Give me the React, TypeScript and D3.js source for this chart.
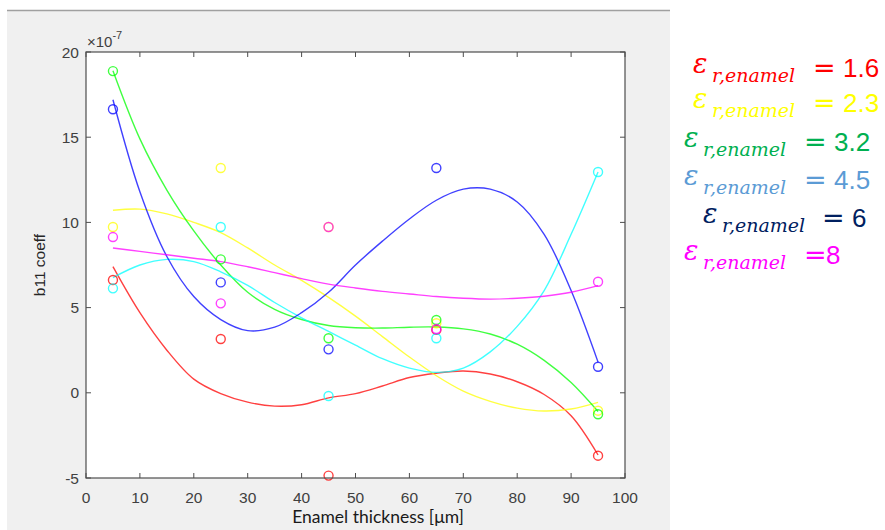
import React from "react";
import * as d3 from "d3";

const thickness = [5, 25, 45, 65, 95];
const seriesNames = ["1.6", "2.3", "3.2", "4.5", "6", "8"];
const lineColors = ["#ff0000", "#ffff00", "#00ff00", "#00ffff", "#0000ff", "#ff00ff"];
const legendColors = ["#ff0000", "#ffff00", "#00b050", "#5b9bd5", "#002060", "#ff00ff"];

// measured points (×1e-7)
const pts16 = [6.62, 3.16, -4.86, 3.69, -3.69];
const pts23 = [9.73, 13.19, 9.73, 4.08, -1.05];
const pts32 = [18.88, 7.83, 3.2, 4.27, -1.26];
const pts45 = [6.13, 9.73, -0.19, 3.2, 12.96];
const pts6 = [16.64, 6.48, 2.55, 13.19, 1.53];
const pts8 = [9.14, 5.25, 9.73, 3.74, 6.52];

// fitted curves, read at these x positions
const curveX = [5, 10, 15, 20, 25, 30, 35, 40, 45, 50, 55, 60, 65, 70, 75, 80, 85, 90, 95];
const fit16 = [7.4, 4.7, 2.5, 0.8, -0.05, -0.55, -0.78, -0.7, -0.3, -0.05, 0.4, 0.9, 1.15, 1.28, 1.1, 0.65, -0.1, -1.35, -3.65];
const fit23 = [10.71, 10.78, 10.5, 10.0, 9.4, 8.5, 7.5, 6.6, 5.6, 4.5, 3.3, 2.1, 1.0, 0.1, -0.5, -0.9, -1.07, -0.95, -0.56];
const fit32 = [18.9, 14.9, 11.9, 9.5, 7.5, 5.9, 4.9, 4.3, 3.95, 3.82, 3.8, 3.85, 3.86, 3.75, 3.45, 2.85, 1.9, 0.6, -1.1];
const fit45 = [6.76, 7.5, 7.83, 7.7, 7.1, 6.3, 5.3, 4.4, 3.6, 2.8, 2.0, 1.45, 1.2, 1.45, 2.4, 3.9, 6.0, 9.3, 12.96];
const fit6 = [17.2, 11.8, 8.0, 5.65, 4.3, 3.65, 3.85, 4.7, 5.9, 7.5, 8.9, 10.2, 11.3, 11.95, 11.95, 11.2, 9.3, 6.0, 1.8];
const fit8 = [8.5, 8.3, 8.1, 7.9, 7.7, 7.4, 7.05, 6.7, 6.38, 6.15, 5.95, 5.8, 5.65, 5.55, 5.5, 5.55, 5.67, 5.9, 6.29];

const points = [pts16, pts23, pts32, pts45, pts6, pts8];
const fits = [fit16, fit23, fit32, fit45, fit6, fit8];

const xTicks = [0, 10, 20, 30, 40, 50, 60, 70, 80, 90, 100];
const yTicks = [-5, 0, 5, 10, 15, 20];

export default function App() {
  const W = 885, H = 530;
  const left = 86, right = 625, top = 52, bottom = 478;
  const x = d3.scaleLinear().domain([0, 100]).range([left, right]);
  const y = d3.scaleLinear().domain([-5, 20]).range([bottom, top]);
  const line = d3
    .line<[number, number]>()
    .x((d) => x(d[0]))
    .y((d) => y(d[1]))
    .curve(d3.curveCatmullRom.alpha(0.5));

  const axisColor = "#4d4d4d";
  const tickFont = "'Liberation Sans', Arial, Helvetica, sans-serif";
  const tickColor = "#404040";

  const legendRows = [
    { ex: 693, base: 73, eqx: 813 },
    { ex: 693, base: 108, eqx: 813 },
    { ex: 684, base: 147, eqx: 804 },
    { ex: 684, base: 185, eqx: 804 },
    { ex: 703, base: 223, eqx: 822 },
    { ex: 684, base: 260, eqx: 804 },
  ];

  return (
    <svg
      width={W}
      height={H}
      style={{ position: "absolute", left: 0, top: 0, display: "block" }}
    >
      <rect x={0} y={0} width={W} height={H} fill="#ffffff" />
      <rect x={7} y={10} width={663} height={H - 10} fill="#f0f0f0" />
      <line x1={7} x2={670} y1={10.5} y2={10.5} stroke="#a0a0a0" strokeWidth={1.5} />
      <rect x={left} y={top} width={right - left} height={bottom - top} fill="#ffffff" />

      {/* fitted curves */}
      {fits.map((f, i) => (
        <path
          key={"c" + i}
          d={line(curveX.map((cx, j) => [cx, f[j]] as [number, number])) || ""}
          fill="none"
          stroke={lineColors[i]}
          strokeOpacity={0.75}
          strokeWidth={1.4}
        />
      ))}
      {/* markers */}
      {points.map((p, i) =>
        p.map((v, j) => (
          <circle
            key={"m" + i + "-" + j}
            cx={x(thickness[j])}
            cy={y(v)}
            r={4.5}
            fill="none"
            stroke={lineColors[i]}
            strokeOpacity={0.75}
            strokeWidth={1.4}
          />
        ))
      )}

      {/* axes box */}
      <rect
        x={left}
        y={top}
        width={right - left}
        height={bottom - top}
        fill="none"
        stroke={axisColor}
        strokeWidth={1.2}
      />
      {xTicks.map((t) => (
        <g key={"xt" + t}>
          <line x1={x(t)} x2={x(t)} y1={bottom} y2={bottom - 5} stroke={axisColor} />
          <line x1={x(t)} x2={x(t)} y1={top} y2={top + 5} stroke={axisColor} />
          <text
            x={x(t)}
            y={503}
            textAnchor="middle"
            fontFamily={tickFont}
            fontSize={15.5}
            fill={tickColor}
          >
            {t}
          </text>
        </g>
      ))}
      {yTicks.map((t) => (
        <g key={"yt" + t}>
          <line x1={left} x2={left + 5} y1={y(t)} y2={y(t)} stroke={axisColor} />
          <line x1={right} x2={right - 5} y1={y(t)} y2={y(t)} stroke={axisColor} />
          <text
            x={79}
            y={y(t) + 5.5}
            textAnchor="end"
            fontFamily={tickFont}
            fontSize={15.5}
            fill={tickColor}
          >
            {t}
          </text>
        </g>
      ))}
      <text x={87} y={47} fontFamily={tickFont} fontSize={15} fill={tickColor}>
        ×10
        <tspan dy={-8} fontSize={11}>-7</tspan>
      </text>
      <text
        transform={`translate(45, 265) rotate(-90)`}
        textAnchor="middle"
        fontFamily={tickFont}
        fontSize={15.5}
        fill="#262626"
      >
        b11 coeff
      </text>
      <text
        x={378}
        y={523}
        textAnchor="middle"
        fontFamily="Lato, 'Open Sans', sans-serif"
        fontSize={17.5}
        fill="#1a1a1a"
      >
        Enamel thickness [μm]
      </text>

      {/* legend */}
      {legendRows.map((r, i) => (
        <g key={"lg" + i} fill={legendColors[i]}>
          <text x={r.ex} y={r.base} fontFamily="'DejaVu Serif', serif" fontStyle="italic" fontSize={27}>
            ε
          </text>
          <text
            x={r.ex + 19}
            y={r.base + 9}
            fontFamily="'DejaVu Serif', serif"
            fontStyle="italic"
            fontSize={19}
          >
            r,enamel
          </text>
          <text x={r.eqx} y={r.base + 4} fontFamily="'DejaVu Sans', sans-serif" fontSize={27}>
            =
          </text>
          <text
            x={r.eqx + (i === 5 ? 22 : 30)}
            y={r.base + 4}
            fontFamily="'Liberation Sans', Arial, sans-serif"
            fontSize={26}
          >
            {seriesNames[i]}
          </text>
        </g>
      ))}
    </svg>
  );
}
